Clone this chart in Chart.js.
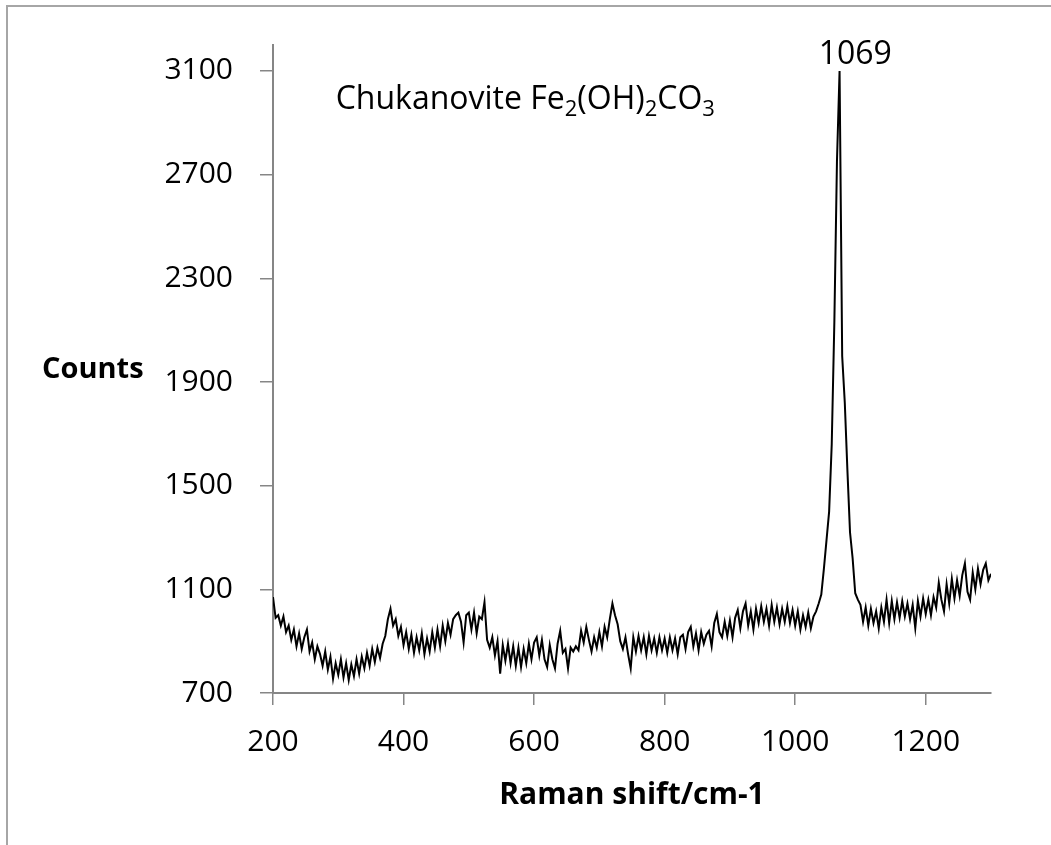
<!DOCTYPE html>
<html>
<head>
<meta charset="utf-8">
<script src="https://cdn.jsdelivr.net/npm/chart.js@4.4.1/dist/chart.umd.min.js"></script>
<style>
  html, body { margin: 0; padding: 0; background: #fff; }
  #frame {
    position: absolute; left: 6px; top: 5px; width: 1100px; height: 900px;
    border-left: 2px solid #a6a6a6; border-top: 2px solid #a6a6a6;
  }
  #spectrum { position: absolute; left: 0; top: 0; }
</style>
</head>
<body>
<div id="frame"></div>
<canvas id="spectrum" width="1051" height="845"></canvas>
<script>
// Raman spectrum of chukanovite, sampled every 4 cm-1 from 200 to 1300
const SHIFT_START = 200;
const SHIFT_STEP = 4;
const counts = [
  // 200 - 296
  1070, 990, 1000, 960, 995, 935, 960, 905, 945, 880, 930, 870, 915, 945, 860, 895, 830, 880, 850, 805, 860, 790, 840, 755, 815,
  // 300 - 396
  770, 830, 760, 815, 750, 810, 765, 830, 775, 840, 795, 855, 805, 870, 820, 875, 835, 890, 920, 985, 1025, 960, 985, 920, 955,
  // 400 - 496
  885, 935, 870, 925, 855, 915, 865, 930, 850, 910, 860, 935, 875, 945, 880, 960, 900, 970, 925, 985, 1000, 1010, 975, 895, 1000,
  // 500 - 596
  1010, 945, 1010, 930, 995, 985, 1050, 905, 875, 915, 845, 900, 775, 885, 825, 890, 815, 880, 805, 875, 800, 870, 815, 890, 830,
  // 600 - 696
  895, 915, 845, 905, 830, 800, 885, 830, 795, 890, 940, 855, 870, 795, 875, 860, 880, 865, 940, 895, 955, 905, 860, 915, 875,
  // 700 - 796
  935, 880, 955, 915, 985, 1045, 1000, 965, 900, 870, 915, 850, 795, 915, 860, 920, 865, 915, 850, 920, 865, 910, 855, 915, 865,
  // 800 - 896
  910, 855, 915, 865, 910, 850, 915, 925, 870, 935, 955, 880, 930, 865, 935, 890, 925, 940, 880, 970, 1005, 935, 915, 975, 920,
  // 900 - 996
  980, 915, 990, 1020, 950, 1015, 1045, 960, 1015, 945, 1025, 970, 1035, 975, 1025, 960, 1040, 975, 1030, 965, 1025, 975, 1035, 970, 1020,
  // 1000 - 1096
  960, 1015, 945, 1000, 955, 1010, 950, 995, 1015, 1045, 1080, 1180, 1290, 1400, 1660, 2130, 2750, 3100, 2000, 1820, 1560, 1320, 1220, 1085, 1060,
  // 1100 - 1196
  1040, 975, 1030, 960, 1025, 970, 1015, 950, 1030, 975, 1060, 970, 1055, 985, 1050, 990, 1055, 995, 1045, 985, 1040, 950, 1055, 995, 1065,
  // 1200 - 1300
  1005, 1060, 1000, 1070, 1030, 1125, 1060, 1015, 1120, 1045, 1140, 1065, 1135, 1075, 1155, 1200, 1090, 1060, 1165, 1100, 1180, 1120, 1175, 1200, 1135,
  1160
];

const xTicks = [200, 400, 600, 800, 1000, 1200];
const yTicks = [700, 1100, 1500, 1900, 2300, 2700, 3100];
const peakLabel = '1069';

const points = counts.map((c, i) => ({ x: SHIFT_START + i * SHIFT_STEP, y: c }));

const AXIS_GREY = '#868686';
const FONT = '"Open Sans", "DejaVu Sans", sans-serif';

// texts that Excel placed freely on the chart
const labelsPlugin = {
  id: 'labels',
  afterDraw(chart) {
    const ctx = chart.ctx;
    const x = chart.scales.x, y = chart.scales.y;
    ctx.save();
    ctx.fillStyle = '#000';

    // peak label
    ctx.font = '32px ' + FONT;
    ctx.textAlign = 'center';
    ctx.textBaseline = 'middle';
    ctx.fillText(peakLabel, x.getPixelForValue(1092), y.getPixelForValue(3160));

    // compound name with subscripts
    const parts = [
      ['Chukanovite Fe', false], ['2', true], ['(OH)', false], ['2', true], ['CO', false], ['3', true]
    ];
    let px = x.getPixelForValue(296);
    const base = y.getPixelForValue(2993) + 10;
    ctx.textAlign = 'left';
    ctx.textBaseline = 'alphabetic';
    parts.forEach(([t, sub]) => {
      ctx.font = (sub ? '22px ' : '32px ') + FONT;
      ctx.fillText(t, px, sub ? base + 7 : base);
      px += ctx.measureText(t).width;
    });

    // axis titles
    ctx.font = 'bold 29px ' + FONT;
    ctx.textBaseline = 'middle';
    ctx.fillText('Counts', 42, y.getPixelForValue(1947));
    ctx.font = 'bold 30px ' + FONT;
    ctx.textAlign = 'center';
    ctx.fillText('Raman shift/cm-1', x.getPixelForValue(750), chart.chartArea.bottom + 102);
    ctx.restore();
  }
};

new Chart(document.getElementById('spectrum'), {
  type: 'line',
  data: {
    datasets: [{
      data: points,
      borderColor: '#000',
      borderWidth: 2,
      pointRadius: 0,
      tension: 0,
      fill: false
    }]
  },
  options: {
    responsive: false,
    animation: false,
    layout: { padding: { left: 0, top: 41, right: 60, bottom: 0 } },
    plugins: { legend: { display: false }, tooltip: { enabled: false } },
    scales: {
      x: {
        type: 'linear',
        min: 200,
        max: 1300,
        afterBuildTicks: (ax) => { ax.ticks = xTicks.map(v => ({ value: v })); },
        afterFit: (ax) => { ax.height = 152; },
        grid: { drawOnChartArea: false, tickLength: 12, color: AXIS_GREY, lineWidth: 1.5 },
        border: { color: AXIS_GREY, width: 2 },
        ticks: { color: '#000', font: { family: FONT, size: 30 }, padding: 19, maxRotation: 0,
                 callback: (v) => String(v) }
      },
      y: {
        min: 700,
        max: 3200,
        afterBuildTicks: (ax) => { ax.ticks = yTicks.map(v => ({ value: v })); },
        afterFit: (ax) => { ax.width = 273; },
        grid: { drawOnChartArea: false, tickLength: 13, color: AXIS_GREY, lineWidth: 1.5 },
        border: { color: AXIS_GREY, width: 2 },
        ticks: { color: '#000', font: { family: FONT, size: 30 }, padding: 27,
                 callback: (v) => String(v) }
      }
    }
  },
  plugins: [labelsPlugin]
});
</script>
</body>
</html>
